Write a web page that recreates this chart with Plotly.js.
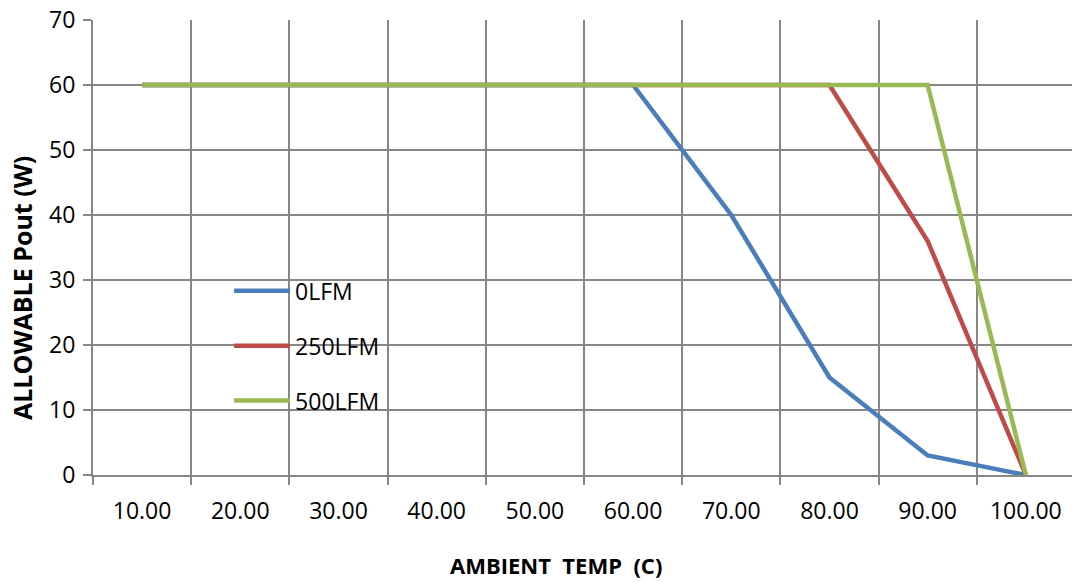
<!DOCTYPE html>
<html>
<head>
<meta charset="utf-8">
<script src="https://cdn.plot.ly/plotly-3.0.1.min.js"></script>
<style>html,body{margin:0;padding:0;background:#fff;}#chart{width:1072px;height:582px;}</style>
</head>
<body>
<div id="chart"></div>
<script>
const temps = [10, 20, 30, 40, 50, 60, 70, 80, 90, 100];
const tickLabels = ["10.00","20.00","30.00","40.00","50.00","60.00","70.00","80.00","90.00","100.00"];
const lfm0 = [60, 60, 60, 60, 60, 60, 40, 15, 3, 0];
const lfm250 = [60, 60, 60, 60, 60, 60, 60, 60, 36, 0];
const lfm500 = [60, 60, 60, 60, 60, 60, 60, 60, 60, 0];
const seriesNames = ["0LFM", "250LFM", "500LFM"];
const categoryEdges = [5, 15, 25, 35, 45, 55, 65, 75, 85, 95, 105];
const xTitle = "AMBIENT  TEMP  (C)";
const yTitle = "ALLOWABLE Pout (W)";

const FONT = "Open Sans, Noto Sans, sans-serif";
const GRID = "#878787";
function tr(y, name, color, grp) {
  return {x: temps, y: y, name: name, type: "scatter", mode: "lines",
    line: {color: color, width: 4.5}, legendgroup: grp};
}
const data = [
  tr(lfm0, seriesNames[0], "#4A7EBB", "a"),
  tr(lfm250, seriesNames[1], "#BE4B48", "b"),
  tr(lfm500, seriesNames[2], "#98B954", "c")
];
const layout = {
  width: 1072, height: 582,
  margin: {l: 93, r: 0, t: 20, b: 107},
  paper_bgcolor: "#fff", plot_bgcolor: "#fff",
  font: {family: FONT, size: 23, color: "#000"},
  showlegend: true,
  legend: {x: 0.139, y: 0.452, xanchor: "left", yanchor: "top", bgcolor: "rgba(0,0,0,0)",
    font: {family: FONT, size: 23}, tracegroupgap: 22, traceorder: "grouped", itemwidth: 56},
  xaxis: {
    range: [5, 104.7], tickvals: temps, ticktext: tickLabels, ticks: "", showgrid: false,
    zeroline: false, showline: true, linecolor: GRID, linewidth: 2,
    ticklabelstandoff: 14, tickfont: {family: FONT, size: 23},
    minor: {tickvals: categoryEdges, showgrid: true, gridcolor: GRID, gridwidth: 2,
      ticks: "outside", ticklen: 8, tickcolor: GRID, tickwidth: 2}
  },
  yaxis: {
    range: [0, 70], dtick: 10, tick0: 0, showgrid: true, gridcolor: GRID, gridwidth: 2,
    zeroline: false, showline: true, linecolor: GRID, linewidth: 2,
    ticks: "outside", ticklen: 8, tickcolor: GRID, tickwidth: 2,
    ticklabelstandoff: 3, tickfont: {family: FONT, size: 23}
  },
  annotations: [
    {text: "<b>" + xTitle + "</b>", xref: "paper", yref: "paper", x: 0.473, y: -0.235,
      xanchor: "center", yanchor: "bottom", showarrow: false, font: {family: FONT, size: 22}},
    {text: "<b>" + yTitle + "</b>", xref: "paper", yref: "paper", x: -0.0725, y: 0.411,
      xanchor: "center", yanchor: "middle", textangle: -90, showarrow: false, font: {family: FONT, size: 25}}
  ]
};
Plotly.newPlot("chart", data, layout, {displayModeBar: false, staticPlot: true});
</script>
</body>
</html>
